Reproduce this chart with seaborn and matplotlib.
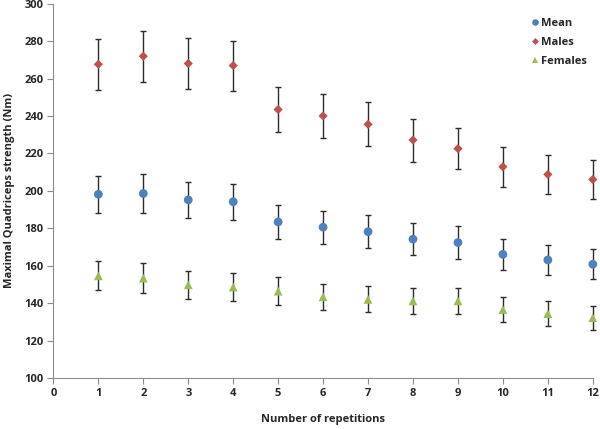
import numpy as np
import pandas as pd
import matplotlib
matplotlib.use('Agg')
import matplotlib.pyplot as plt
import seaborn as sns

# values
repetitions = list(range(1, 13))
mean_vals = [198.2, 198.6, 195.2, 194.2, 183.4, 180.6, 178.2, 174.2, 172.4, 166.1, 163.1, 160.8]
mean_err = [10.0, 10.2, 9.7, 9.6, 9.1, 8.8, 8.9, 8.7, 8.8, 8.2, 8.0, 8.0]
males_vals = [267.7, 272.0, 268.1, 267.0, 243.5, 240.1, 235.6, 227.2, 222.6, 212.9, 208.8, 206.1]
males_err = [13.5, 13.6, 13.5, 13.4, 12.1, 11.9, 11.8, 11.5, 11.0, 10.8, 10.3, 10.5]
females_vals = [154.6, 153.4, 149.8, 148.6, 146.4, 143.4, 142.0, 141.2, 141.2, 136.6, 134.4, 132.2]
females_err = [7.7, 7.8, 7.6, 7.4, 7.4, 7.0, 7.0, 6.8, 7.0, 6.6, 6.6, 6.3]

series_names = ['Mean', 'Males', 'Females']
series_colors = ['#4F81BD', '#C0504D', '#9BBB59']
series_markers = ['o', 'D', '^']
series_sizes = [40, 22, 40]

df = pd.concat([
    pd.DataFrame({'rep': repetitions, 'value': mean_vals, 'err': mean_err, 'group': 'Mean'}),
    pd.DataFrame({'rep': repetitions, 'value': males_vals, 'err': males_err, 'group': 'Males'}),
    pd.DataFrame({'rep': repetitions, 'value': females_vals, 'err': females_err, 'group': 'Females'}),
])

sns.set_style('white')
plt.rcParams['font.family'] = ['Open Sans', 'DejaVu Sans']
plt.rcParams['font.weight'] = 'bold'

fig = plt.figure(figsize=(6, 4.29), dpi=100)
ax = fig.add_axes([0.089, 0.119, 0.899, 0.872])

# error bars first so markers sit on top
for name in series_names:
    sub = df[df['group'] == name]
    eb = ax.errorbar(sub['rep'], sub['value'], yerr=sub['err'], fmt='none',
                     ecolor='#2b2b2b', elinewidth=1.0, capsize=2.5, capthick=1.0, zorder=1)
    for art in eb.lines[1] + eb.lines[2]:
        art.set_clip_on(False)

sns.scatterplot(data=df, x='rep', y='value', hue='group', style='group', size='group',
                hue_order=series_names, style_order=series_names, size_order=series_names,
                palette=dict(zip(series_names, series_colors)),
                markers=dict(zip(series_names, series_markers)),
                sizes=dict(zip(series_names, series_sizes)),
                linewidth=0, ax=ax, zorder=3)
for coll in ax.collections:
    coll.set_clip_on(False)

ax.set_xlim(0, 12)
ax.set_ylim(100, 300)
ax.set_xticks(range(0, 13))
ax.set_yticks(range(100, 301, 20))
ax.tick_params(axis='both', labelsize=8, length=4, width=0.8, color='#8c8c8c',
               direction='out', bottom=True, left=True, pad=3)
for lab in ax.get_xticklabels() + ax.get_yticklabels():
    lab.set_fontweight('bold')

for side in ['top', 'right']:
    ax.spines[side].set_visible(False)
for side in ['left', 'bottom']:
    ax.spines[side].set_color('#8c8c8c')
    ax.spines[side].set_linewidth(0.8)

ax.set_xlabel('Number of repetitions', fontsize=8, fontweight='bold', labelpad=11)
ax.set_ylabel('Maximal Quadriceps strength (Nm)', fontsize=8, fontweight='bold', labelpad=7)

leg = ax.legend(loc='upper right', bbox_to_anchor=(1.008, 0.99), frameon=False,
                fontsize=8, handletextpad=0.0, labelspacing=0.75, markerscale=0.75,
                handlelength=1.2)
for t in leg.get_texts():
    t.set_fontweight('bold')

fig.savefig('out.png', dpi=100)
